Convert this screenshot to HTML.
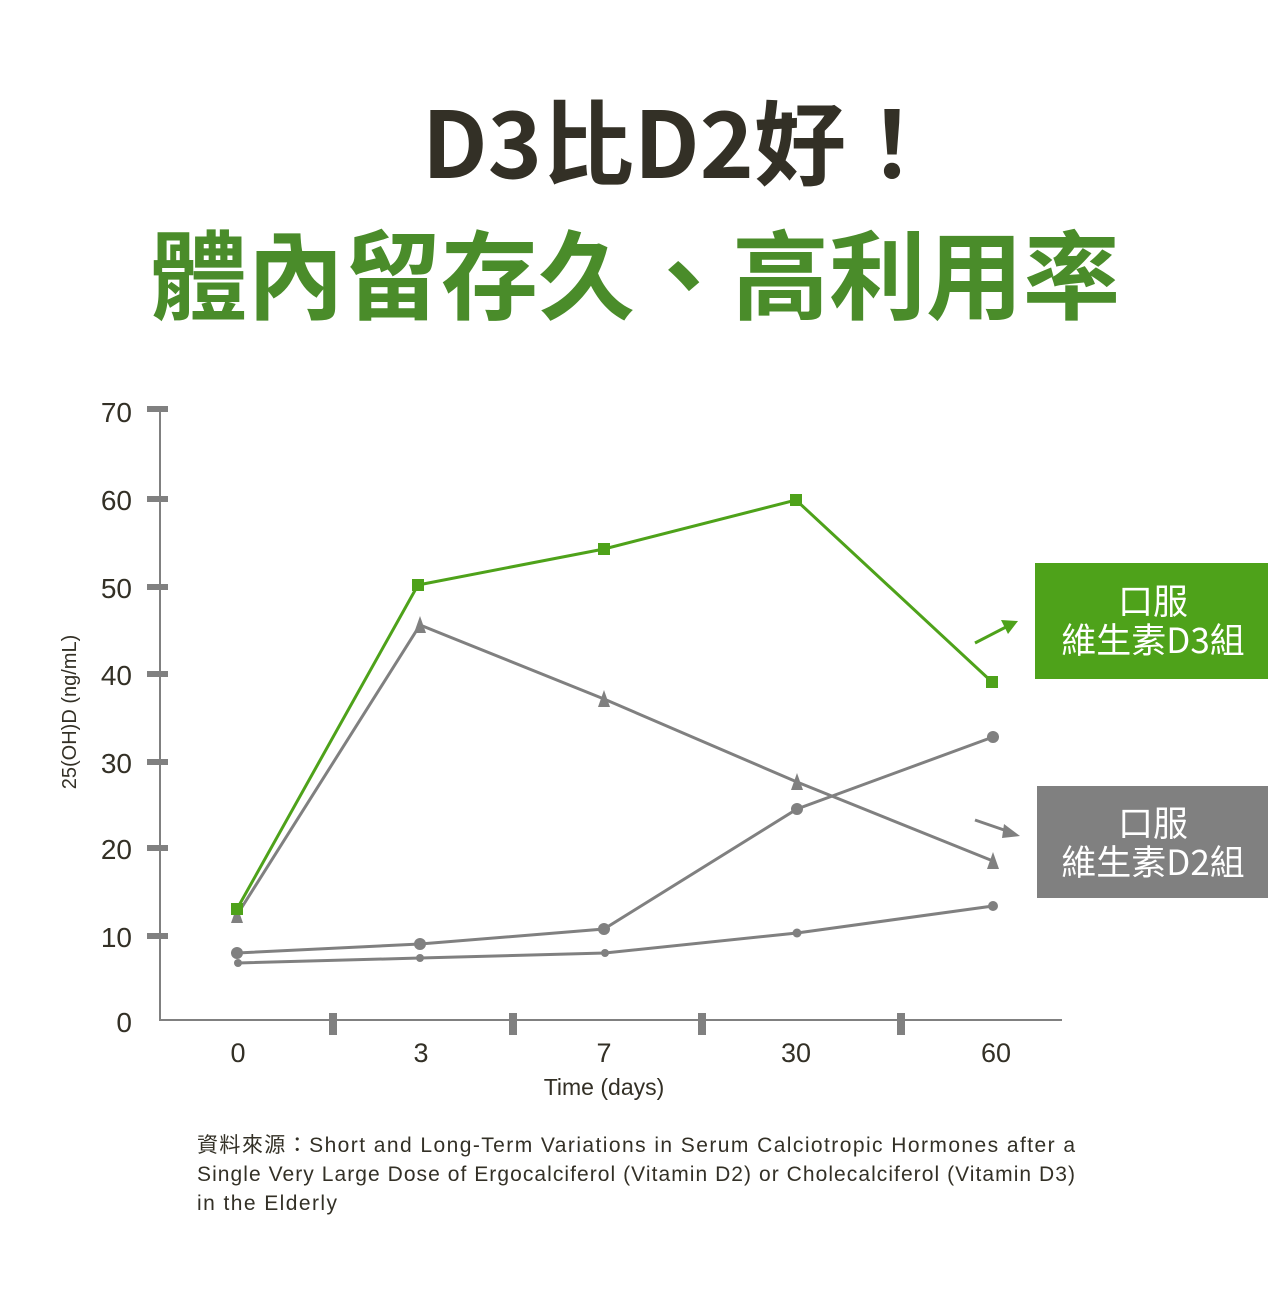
<!DOCTYPE html>
<html><head><meta charset="utf-8"><style>
html,body{margin:0;padding:0;background:#fff;}
body{width:1280px;height:1292px;overflow:hidden;}
</style></head><body>
<svg width="1280" height="1292" viewBox="0 0 1280 1292" xmlns="http://www.w3.org/2000/svg" font-family="Liberation Sans, Noto Sans CJK TC, sans-serif">
<text x="680" y="178" text-anchor="middle" font-size="92" font-weight="bold" fill="#333026" font-family="Noto Sans CJK TC, sans-serif">D3比D2好！</text>
<text x="635" y="312" text-anchor="middle" font-size="97" font-weight="bold" fill="#4a8c2a" font-family="Noto Sans CJK TC, sans-serif">體內留存久、高利用率</text>
<g stroke="#808080" fill="none">
<line x1="160" y1="406" x2="160" y2="1021" stroke-width="2"/>
<line x1="160" y1="1020" x2="1062" y2="1020" stroke-width="2"/>
</g>
<g fill="#808080">
<rect x="147" y="406" width="21" height="6"/><rect x="147" y="496" width="21" height="6"/>
<rect x="147" y="584" width="21" height="6"/><rect x="147" y="671" width="21" height="6"/>
<rect x="147" y="759" width="21" height="6"/><rect x="147" y="845" width="21" height="6"/>
<rect x="147" y="933" width="21" height="6"/>
<rect x="329" y="1013" width="8" height="22"/><rect x="509" y="1013" width="8" height="22"/>
<rect x="698" y="1013" width="8" height="22"/><rect x="897" y="1013" width="8" height="22"/>
</g>
<g font-size="28" fill="#333026" text-anchor="end">
<text x="132" y="422">70</text><text x="132" y="510">60</text><text x="132" y="598">50</text>
<text x="132" y="685">40</text><text x="132" y="773">30</text><text x="132" y="859">20</text>
<text x="132" y="947">10</text><text x="132" y="1032">0</text>
</g>
<g font-size="27" fill="#333026" text-anchor="middle">
<text x="238" y="1062">0</text><text x="421" y="1062">3</text><text x="604" y="1062">7</text>
<text x="796" y="1062">30</text><text x="996" y="1062">60</text>
</g>
<text x="604" y="1095" font-size="23" fill="#333026" text-anchor="middle">Time (days)</text>
<text transform="translate(76,712) rotate(-90)" font-size="20" fill="#333026" text-anchor="middle">25(OH)D (ng/mL)</text>
<g stroke="#808080" stroke-width="3" fill="none">
<polyline points="237,915 420,625 604,699 797,782 993,861"/>
<polyline points="237,953 420,944 604,929 797,809 993,737"/>
<polyline points="238,963 420,958 605,953 797,933 993,906"/>
</g>
<g fill="#808080">
<polygon points="237,906 231,923 243,923"/><polygon points="420,616 414,633 426,633"/>
<polygon points="604,690 598,707 610,707"/><polygon points="797,773 791,790 803,790"/>
<polygon points="993,852 987,869 999,869"/>
<circle cx="237" cy="953" r="6"/><circle cx="420" cy="944" r="6"/><circle cx="604" cy="929" r="6"/>
<circle cx="797" cy="809" r="6"/><circle cx="993" cy="737" r="6"/>
<circle cx="238" cy="963" r="4"/><circle cx="420" cy="958" r="4"/><circle cx="605" cy="953" r="4"/>
<circle cx="797" cy="933" r="4.5"/><circle cx="993" cy="906" r="5"/>
</g>
<polyline points="237,909 418,585 604,549 796,500 992,682" stroke="#4ea21a" stroke-width="3" fill="none"/>
<g fill="#4ea21a">
<rect x="231" y="903" width="12" height="12"/><rect x="412" y="579" width="12" height="12"/>
<rect x="598" y="543" width="12" height="12"/><rect x="790" y="494" width="12" height="12"/>
<rect x="986" y="676" width="12" height="12"/>
</g>
<rect x="1035" y="563" width="233" height="116" fill="#4ea21a"/>
<rect x="1037" y="786" width="231" height="112" fill="#808080"/>
<g font-size="35" fill="#fff" text-anchor="middle" font-family="Noto Sans CJK TC, sans-serif">
<text x="1153" y="614">口服</text><text x="1153" y="653">維生素D3組</text>
<text x="1153" y="836">口服</text><text x="1153" y="875">維生素D2組</text>
</g>
<line x1="975" y1="643" x2="1006" y2="627" stroke="#4ea21a" stroke-width="3"/>
<polygon points="1018,621 1001,620 1008,634" fill="#4ea21a"/>
<line x1="975" y1="820" x2="1007" y2="831" stroke="#808080" stroke-width="3"/>
<polygon points="1020,836 1004,824 1002,838" fill="#808080"/>
<g font-size="21" fill="#333026" font-family="Liberation Sans, Noto Sans CJK TC, sans-serif">
<text x="197" y="1152" textLength="878" lengthAdjust="spacing">資料來源：Short and Long-Term Variations in Serum Calciotropic Hormones after a</text>
<text x="197" y="1181" textLength="878" lengthAdjust="spacing">Single Very Large Dose of Ergocalciferol (Vitamin D2) or Cholecalciferol (Vitamin D3)</text>
<text x="197" y="1210" textLength="140" lengthAdjust="spacing">in the Elderly</text>
</g>
</svg>
</body></html>
